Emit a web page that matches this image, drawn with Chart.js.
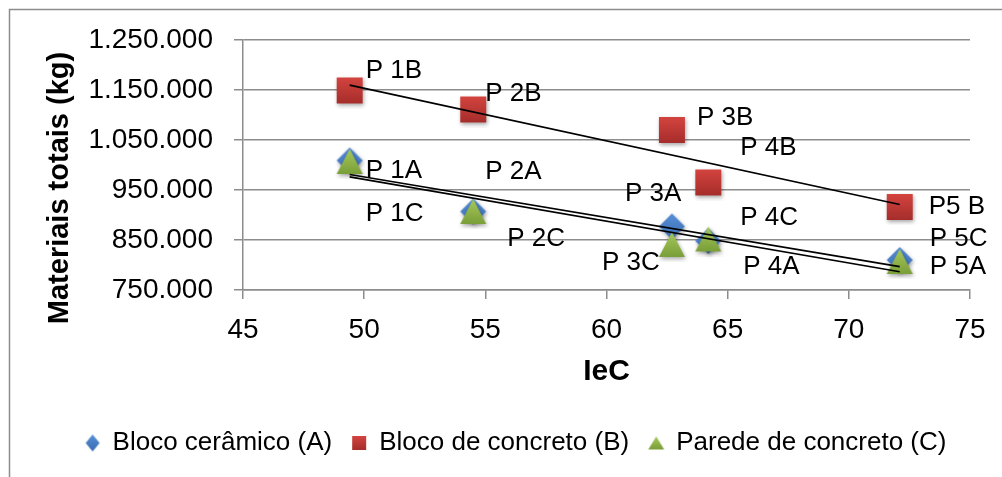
<!DOCTYPE html>
<html>
<head>
<meta charset="utf-8">
<title>Materiais totais x IeC</title>
<script src="https://cdn.jsdelivr.net/npm/chart.js@4.4.0/dist/chart.umd.min.js"></script>
<style>
    html, body { margin: 0; padding: 0; background: #ffffff; }
    #contenedor { width: 1002px; height: 477px; }
</style>
</head>
<body>
<div id="contenedor"><canvas id="grafico" width="1002" height="477"></canvas></div>
<script>
// dados
var IEC = [49.4, 54.5, 62.7, 64.2, 72.1];
var BLOCO_CERAMICO = [1009000, 907000, 877000, 848000, 810000];
var BLOCO_CONCRETO = [1149000, 1111000, 1070000, 965000, 916000];
var PAREDE_CONCRETO = [1007000, 907000, 841000, 852000, 807000];

var ROTULOS_A = ['P 1A', 'P 2A', 'P 3A', 'P 4A', 'P 5A'];
var ROTULOS_B = ['P 1B', 'P 2B', 'P 3B', 'P 4B', 'P5 B'];
var ROTULOS_C = ['P 1C', 'P 2C', 'P 3C', 'P 4C', 'P 5C'];

var SERIES = ['Bloco cerâmico (A)', 'Bloco de concreto (B)', 'Parede de concreto (C)'];
var TITULO_X = 'IeC';
var TITULO_Y = 'Materiais totais (kg)';

var X_MIN = 45, X_MAX = 75, X_PASSO = 5;
var Y_MIN = 750000, Y_MAX = 1250000, Y_PASSO = 100000;

// deslocamento dos rótulos em px (borda esquerda, centro vertical)
var POS_A = [[16, 10], [12, -40], [-47, -33], [35, 26], [30, 7]];
var POS_B = [[16, -20], [12, -16], [25, -12], [32, -35], [29, 0]];
var POS_C = [[16, 52], [34, 27], [-70, 18], [32, -21], [30, -23]];

var FONTE = "'Liberation Sans', Arial, sans-serif";
var CINZA = '#8c8c8c';

function pontos(xs, ys) {
    var arr = [];
    for (var i = 0; i < xs.length; i++) {
        arr.push({x: xs[i], y: ys[i]});
    }
    return arr;
}

// linha de tendência linear (mínimos quadrados), como no Excel
function tendencia(xs, ys) {
    var n = xs.length, sx = 0, sy = 0, sxx = 0, sxy = 0;
    for (var i = 0; i < n; i++) {
        sx += xs[i];
        sy += ys[i];
        sxx += xs[i] * xs[i];
        sxy += xs[i] * ys[i];
    }
    var b = (n * sxy - sx * sy) / (n * sxx - sx * sx);
    var a = (sy - b * sx) / n;
    var x0 = Math.min.apply(null, xs), x1 = Math.max.apply(null, xs);
    return [{x: x0, y: a + b * x0}, {x: x1, y: a + b * x1}];
}

function formatarMilhar(v) {
    return String(v).replace(/\B(?=(\d{3})+(?!\d))/g, '.');
}

// marcador com degradê e sombra, centrado no ponto
function criarMarcador(tipo, w, h, corTopo, corBase, sombra) {
    var pad = sombra ? 5 : 1;
    var c = document.createElement('canvas');
    c.width = w + 2 * pad;
    c.height = h + 2 * pad;
    var ctx = c.getContext('2d');
    var grad = ctx.createLinearGradient(0, pad, 0, pad + h);
    grad.addColorStop(0, corTopo);
    grad.addColorStop(1, corBase);
    if (sombra) {
        ctx.shadowColor = 'rgba(0, 0, 0, 0.35)';
        ctx.shadowBlur = 4;
        ctx.shadowOffsetX = 1;
        ctx.shadowOffsetY = 2;
    }
    ctx.fillStyle = grad;
    ctx.beginPath();
    if (tipo === 'losango') {
        ctx.moveTo(pad + w / 2, pad);
        ctx.lineTo(pad + w, pad + h / 2);
        ctx.lineTo(pad + w / 2, pad + h);
        ctx.lineTo(pad, pad + h / 2);
    } else if (tipo === 'quadrado') {
        ctx.rect(pad, pad, w, h);
    } else {
        ctx.moveTo(pad + w / 2, pad);
        ctx.lineTo(pad + w, pad + h);
        ctx.lineTo(pad, pad + h);
    }
    ctx.closePath();
    ctx.fill();
    return c;
}

var MARCADORES = [
    criarMarcador('losango', 26, 26, '#5890d8', '#3a6bb0', true),
    criarMarcador('quadrado', 26, 26, '#d4443f', '#a52d2b', true),
    criarMarcador('triangulo', 26, 25, '#a6c95c', '#7a9e38', true)
];
var MARCADORES_LEGENDA = [
    criarMarcador('losango', 14, 17, '#5890d8', '#3a6bb0', false),
    criarMarcador('quadrado', 14, 14, '#d4443f', '#a52d2b', false),
    criarMarcador('triangulo', 16, 13, '#a6c95c', '#7a9e38', false)
];

var pluginFundo = {
    id: 'fundo',
    beforeDraw: function (chart) {
        var ctx = chart.ctx;
        ctx.save();
        ctx.fillStyle = '#ffffff';
        ctx.fillRect(0, 0, chart.width, chart.height);
        ctx.strokeStyle = CINZA;
        ctx.lineWidth = 1.5;
        ctx.beginPath();
        ctx.moveTo(9.5, chart.height + 5);
        ctx.lineTo(9.5, 9.5);
        ctx.lineTo(chart.width + 5, 9.5);
        ctx.stroke();
        ctx.restore();
    }
};

var pluginRotulos = {
    id: 'rotulos',
    afterDatasetsDraw: function (chart) {
        var ctx = chart.ctx;
        var grupos = [[0, ROTULOS_A, POS_A], [1, ROTULOS_B, POS_B], [2, ROTULOS_C, POS_C]];
        ctx.save();
        ctx.fillStyle = '#000000';
        ctx.font = '26px ' + FONTE;
        ctx.textAlign = 'left';
        ctx.textBaseline = 'middle';
        for (var g in grupos) {
            var meta = chart.getDatasetMeta(grupos[g][0]);
            for (var i = 0; i < meta.data.length; i++) {
                var p = meta.data[i];
                var d = grupos[g][2][i];
                ctx.fillText(grupos[g][1][i], p.x + d[0], p.y + d[1]);
            }
        }
        // títulos dos eixos
        var area = chart.chartArea;
        ctx.font = 'bold 30px ' + FONTE;
        ctx.textAlign = 'center';
        ctx.fillText(TITULO_X, (area.left + area.right) / 2, 372);
        ctx.translate(60, 188);
        ctx.rotate(-Math.PI / 2);
        ctx.font = 'bold 29px ' + FONTE;
        ctx.fillText(TITULO_Y, 0, 0);
        ctx.restore();
    }
};

function serieTendencia(nome, ys) {
    return {
        label: nome,
        data: tendencia(IEC, ys),
        showLine: true,
        pointRadius: 0,
        borderColor: '#000000',
        borderWidth: 1.7,
        order: 0
    };
}

var GRAFICO = new Chart(document.getElementById('grafico'), {
    type: 'scatter',
    data: {
        datasets: [
            {
                label: SERIES[0],
                data: pontos(IEC, BLOCO_CERAMICO),
                pointStyle: MARCADORES[0],
                pointRadius: 13,
                backgroundColor: '#4a7ebb',
                order: 3
            },
            {
                label: SERIES[1],
                data: pontos(IEC, BLOCO_CONCRETO),
                pointStyle: MARCADORES[1],
                pointRadius: 13,
                backgroundColor: '#c0393b',
                order: 2
            },
            {
                label: SERIES[2],
                data: pontos(IEC, PAREDE_CONCRETO),
                pointStyle: MARCADORES[2],
                pointRadius: 13,
                backgroundColor: '#8db34a',
                order: 1
            },
            serieTendencia('tendA', BLOCO_CERAMICO),
            serieTendencia('tendB', BLOCO_CONCRETO),
            serieTendencia('tendC', PAREDE_CONCRETO)
        ]
    },
    options: {
        responsive: false,
        animation: false,
        devicePixelRatio: 1,
        layout: {
            padding: {left: 62, right: 32, top: 40, bottom: 11}
        },
        plugins: {
            tooltip: {enabled: false},
            legend: {
                position: 'bottom',
                labels: {
                    usePointStyle: true,
                    boxWidth: 14,
                    boxHeight: 14,
                    padding: 20,
                    color: '#000000',
                    font: {family: FONTE, size: 26},
                    generateLabels: function (chart) {
                        var itens = Chart.defaults.plugins.legend.labels.generateLabels(chart);
                        for (var i in itens) {
                            if (itens[i].datasetIndex < 3) {
                                itens[i].pointStyle = MARCADORES_LEGENDA[itens[i].datasetIndex];
                            }
                        }
                        return itens;
                    },
                    filter: function (item) {
                        return item.datasetIndex < 3;
                    },
                    sort: function (a, b) {
                        return a.datasetIndex - b.datasetIndex;
                    }
                }
            }
        },
        scales: {
            x: {
                type: 'linear',
                min: X_MIN,
                max: X_MAX,
                afterFit: function (scale) {
                    scale.height = 120;
                },
                ticks: {
                    stepSize: X_PASSO,
                    color: '#000000',
                    padding: 14,
                    maxRotation: 0,
                    font: {family: FONTE, size: 28}
                },
                grid: {
                    drawOnChartArea: false,
                    tickLength: 9,
                    color: CINZA,
                    lineWidth: 1.5
                },
                border: {color: CINZA, width: 1.5}
            },
            y: {
                min: Y_MIN,
                max: Y_MAX,
                afterFit: function (scale) {
                    scale.width = 181;
                },
                ticks: {
                    stepSize: Y_PASSO,
                    color: '#000000',
                    padding: 21,
                    font: {family: FONTE, size: 28},
                    callback: function (v) {
                        return formatarMilhar(v);
                    }
                },
                grid: {
                    tickLength: 9,
                    color: CINZA,
                    lineWidth: 1.5
                },
                border: {color: CINZA, width: 1.5}
            }
        }
    },
    plugins: [pluginFundo, pluginRotulos]
});
</script>
</body>
</html>
